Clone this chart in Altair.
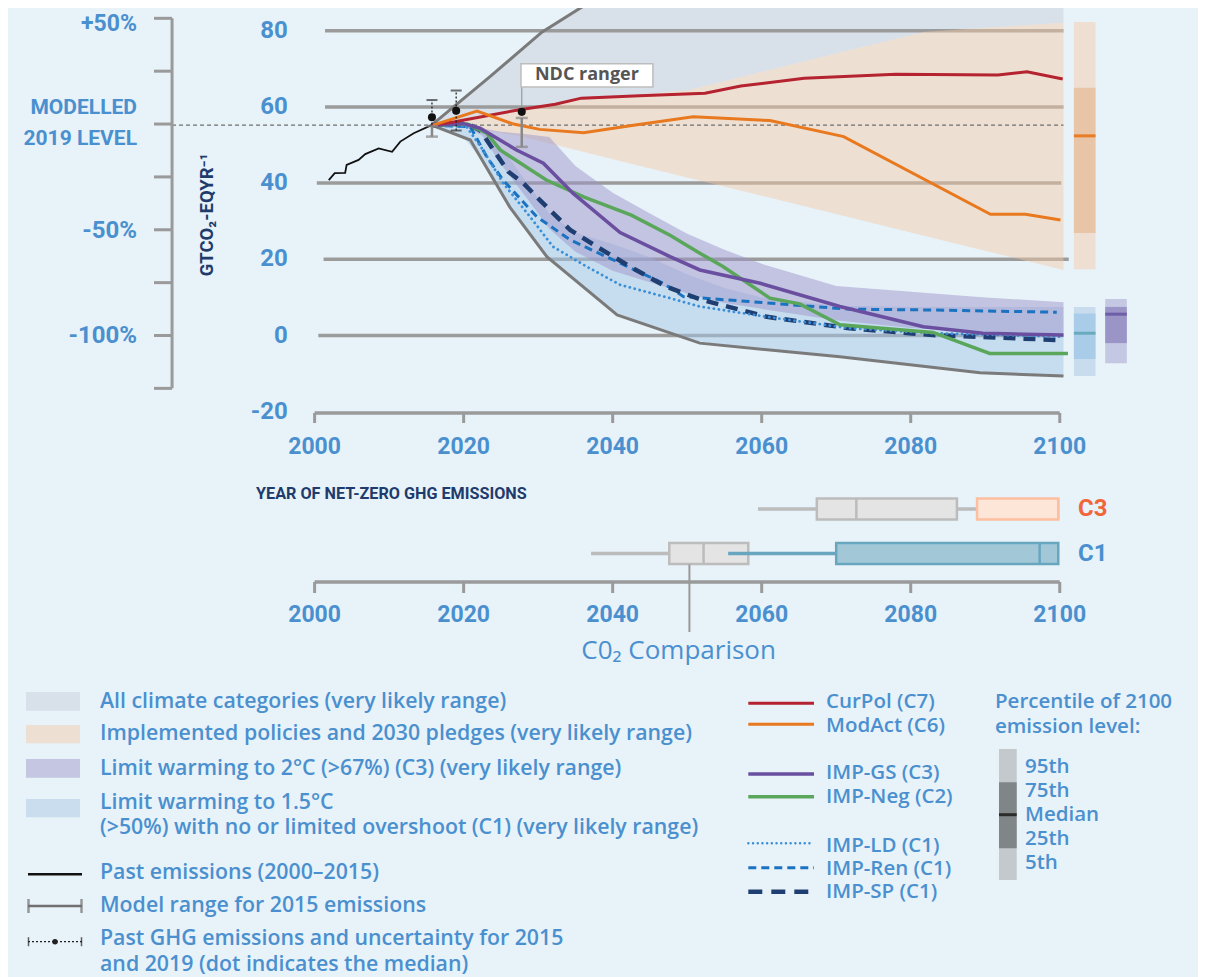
import altair as alt
import pandas as pd

# ---------------- values ----------------
past_years = [2001.9, 2002.7, 2004.1, 2004.3, 2005.9, 2006.8, 2008.6, 2010.4, 2011.5, 2013.3, 2015.7]
past_vals = [40.8, 42.6, 42.7, 44.8, 46.1, 47.6, 49.1, 48.2, 50.9, 53.1, 55.2]

curpol_years = [2015.7, 2018.8, 2027.3, 2032.3, 2035.8, 2043.6, 2052.4, 2057.2, 2065.7, 2078.0, 2091.7, 2095.6, 2100.4]
curpol_vals = [55.2, 56.1, 59.2, 60.7, 62.3, 62.9, 63.6, 65.5, 67.5, 68.6, 68.4, 69.2, 67.3]
modact_years = [2015.9, 2021.8, 2026.7, 2030.2, 2036.1, 2042.8, 2050.8, 2061.1, 2071.0, 2090.7, 2095.4, 2100.1]
modact_vals = [55.2, 58.9, 55.5, 54.1, 53.2, 55.2, 57.4, 56.4, 52.2, 31.8, 31.8, 30.3]
gs_years = [2015.7, 2020.0, 2022.2, 2027.1, 2030.7, 2034.7, 2041.0, 2047.7, 2051.7, 2059.8, 2070.5, 2081.7, 2089.7, 2100.5]
gs_vals = [55.2, 55.6, 54.4, 48.7, 45.2, 37.3, 27.0, 20.7, 17.2, 13.7, 7.6, 2.3, 0.6, 0.1]
neg_years = [2015.7, 2020.5, 2023.1, 2024.9, 2031.1, 2036.1, 2042.5, 2047.7, 2051.7, 2054.8, 2061.1, 2065.1, 2070.5, 2083.0, 2090.6, 2101.1]
neg_vals = [55.2, 55.5, 53.1, 48.7, 40.8, 36.4, 31.6, 26.3, 21.6, 18.1, 9.8, 8.3, 2.8, 0.8, -4.7, -4.7]
ren_years = [2015.7, 2020.9, 2023.1, 2025.3, 2029.8, 2034.3, 2041.0, 2046.8, 2049.5, 2058.4, 2071.8, 2083.0, 2099.6]
ren_vals = [55.2, 54.8, 46.9, 40.8, 31.2, 25.1, 19.0, 13.7, 10.2, 8.9, 6.9, 6.7, 6.1]
sp_years = [2015.7, 2020.4, 2022.2, 2024.0, 2026.0, 2028.0, 2030.2, 2034.3, 2037.9, 2042.3, 2047.2, 2051.7, 2060.7, 2071.8, 2083.0, 2100.0]
sp_vals = [55.2, 55.7, 53.9, 48.7, 43.0, 40.0, 35.6, 27.7, 23.3, 18.1, 12.8, 9.5, 4.9, 1.9, 0.1, -1.2]
ld_years = [2015.7, 2020.4, 2022.6, 2025.3, 2028.9, 2032.0, 2036.5, 2041.0, 2047.7, 2051.7, 2060.7, 2071.8, 2083.0, 2100.0]
ld_vals = [55.2, 54.8, 48.7, 40.0, 31.2, 23.3, 18.1, 13.3, 9.8, 7.6, 4.9, 1.9, 0.6, -0.3]

# bounds of the "all climate categories" range
gray_up_years = [2015.7, 2023.5, 2030.5, 2037.0, 2041.0]
gray_up_vals = [55.2, 67.9, 79.6, 87.6, 92.5]
gray_lo_years = [2015.7, 2020.9, 2026.2, 2031.2, 2040.6, 2051.7, 2070.5, 2089.3, 2100.5]
gray_lo_vals = [55.2, 51.3, 33.7, 20.6, 5.4, -2.0, -5.6, -9.8, -10.6]
allcat_years = [2015.7, 2020.0, 2023.5, 2027.3, 2030.5, 2034.4, 2037.0, 2038.3, 2050.1, 2060.0, 2070.5, 2081.9, 2100.5]
allcat_hi = [55.2, 62.2, 67.9, 74.3, 79.6, 84.4, 87.6, 89.2, 100, 100, 100, 100, 100]
allcat_lo = [55.2, 57.0, 58.1, 59.5, 60.5, 61.7, 62.2, 62.4, 64.4, 69.2, 74.3, 79.7, 82.1]

# implemented policies range
pol_years = [2015.7, 2020.0, 2027.3, 2034.4, 2038.3, 2050.1, 2060.0, 2070.5, 2081.9, 2100.5]
pol_hi = [55.2, 57.0, 59.5, 61.7, 62.4, 64.4, 69.2, 74.3, 79.7, 82.1]
pol_lo = [55.2, 55.0, 52.4, 49.0, 47.1, 41.4, 36.7, 31.6, 26.1, 17.2]

# C1 / C3 ranges
rng_years = [2015.7, 2020, 2022.5, 2025, 2028.5, 2031.5, 2035, 2040, 2045, 2050, 2055, 2060, 2070, 2080, 2090, 2100.5]
c1_hi = [55.2, 55.6, 53.5, 49.5, 40.0, 32.0, 27.0, 24.0, 20.5, 16.0, 12.5, 10.0, 7.8, 7.5, 7.5, 7.5]
c1_lo = [55.2, 52.0, 46.0, 37.7, 27.7, 20.1, 14.5, 6.4, 2.5, -0.9, -2.6, -3.6, -5.5, -7.7, -9.8, -10.6]
c3_hi = [55.2, 55.5, 54.3, 53.5, 52.8, 52.1, 44.5, 37.5, 32.0, 26.7, 22.5, 18.8, 13.0, 11.5, 10.0, 8.7]
c3_lo = [55.2, 55.0, 52.5, 45.0, 36.0, 28.0, 22.0, 17.0, 14.0, 11.0, 8.5, 7.0, 4.0, 2.0, 1.0, 0.6]

# 2100 percentile bars: p5, p25, median, p75, p95
bar_names = ["Policies", "C1", "C3"]
bar_p5 = [17.4, -10.6, -7.3]
bar_p25 = [26.9, -6.2, -2.0]
bar_med = [52.4, 0.6, 5.6]
bar_p75 = [65.0, 5.8, 7.5]
bar_p95 = [82.3, 7.5, 9.6]

# markers
level_2019 = 55.2
pct_base = 55.5
hist_years = [2015.75, 2019.0]
hist_med = [57.3, 59.0]
hist_lo = [52.2, 53.8]
hist_hi = [61.8, 64.3]
model2015_lo, model2015_hi = 52.2, 55.0
ndc_year, ndc_med, ndc_lo, ndc_hi = 2027.8, 58.7, 49.5, 57.1

# year of net-zero (box plots)
nz_cats = ["C3", "C1"]
co2_lo = [2059.5, 2037.1]
co2_q1 = [2067.4, 2047.6]
co2_med = [2072.7, 2052.2]
co2_q3 = [2086.2, 2058.2]
co2_hi = [2088.9, 2058.2]
ghg_lo = [2088.9, 2055.5]
ghg_q1 = [2088.9, 2070.0]
ghg_med = [2099.8, 2097.3]
ghg_q3 = [2099.8, 2099.8]
co2_compare_year = 2050.3

grid_vals = [80, 60, 40, 20, 0]
grid_start = [2001.4, 2001.4, 2000.3, 2001.2, 2000.5]
grid_end = [2100.5, 2100.5, 2100.2, 2101.2, 2100.5]
ytick_vals = [80, 60, 40, 20, 0, -20]
year_ticks = [2000, 2020, 2040, 2060, 2080, 2100]
pct_ticks = [50, 25, 0, -25, -50, -75, -100, -125]
pct_labels = ["+50%", "-50%", "-100%"]

# ---------------- style / layout ----------------
BG = "#e8f2f9"
BLUE = "#4a90cf"
NAVY = "#1e3b6c"
GRID = "#9b9b9b"
AXC = "#9a9a9a"
RED, ORANGE, PURPLE, GREEN = "#b52230", "#e8791f", "#6a4fa0", "#5aa65a"
LDC, RENC, SPC = "#3a8fd8", "#1a72c0", "#1f3f72"
GLINE = "#7a7a7a"
COND = "Roboto, 'Liberation Sans', sans-serif"
SANS = "'Open Sans', 'Noto Sans', sans-serif"
LEG = 20.5
LEG_L = 21.3

W, H = 1190, 969
PXS, PVS = 7.4515, 3.81
YR0 = 2000 - (314.6 - 8) / PXS
YR1 = YR0 + W / PXS
V_TOP = (335.5 - 8) / PVS
V_BOT = V_TOP - H / PVS

SX = alt.Scale(domain=[YR0, YR1], nice=False, zero=False)
SV = alt.Scale(domain=[V_BOT, V_TOP], nice=False, zero=False)
SPX = alt.Scale(domain=[8, 8 + W], nice=False, zero=False)
SPY = alt.Scale(domain=[8, 8 + H], reverse=True, nice=False, zero=False)


def ax(f):
    return alt.X(f, type="quantitative", scale=SX, axis=None)


def av(f):
    return alt.Y(f, type="quantitative", scale=SV, axis=None)


def apx(f):
    return alt.X(f, type="quantitative", scale=SPX, axis=None)


def apy(f):
    return alt.Y(f, type="quantitative", scale=SPY, axis=None)


def ch(d):
    return alt.Chart(pd.DataFrame(d))


L = []

# ---- range areas and gridlines ----
L.append(ch({"x": allcat_years, "hi": allcat_hi, "lo": allcat_lo})
         .mark_area(color="#c8d0d9", opacity=0.5, clip=True)
         .encode(x=ax("x"), y=av("hi"), y2="lo"))
L.append(ch({"v": grid_vals, "a": grid_start, "b": grid_end})
         .mark_rule(color=GRID, strokeWidth=3.5)
         .encode(x=ax("a"), x2="b", y=av("v")))
L.append(ch({"x": pol_years, "hi": pol_hi, "lo": pol_lo})
         .mark_area(color="#f5c9a3", opacity=0.45)
         .encode(x=ax("x"), y=av("hi"), y2="lo"))
L.append(ch({"x": rng_years, "hi": c1_hi, "lo": c1_lo})
         .mark_area(color="#a4c6e5", opacity=0.5)
         .encode(x=ax("x"), y=av("hi"), y2="lo"))
L.append(ch({"x": rng_years, "hi": c3_hi, "lo": c3_lo})
         .mark_area(color="#9e96c9", opacity=0.5)
         .encode(x=ax("x"), y=av("hi"), y2="lo"))

# modelled 2019 level
L.append(ch({"a": [1980.87], "b": [2100.5], "v": [level_2019]})
         .mark_rule(color="#6d6d6d", strokeWidth=1.3, strokeDash=[4, 3])
         .encode(x=ax("a"), x2="b", y=av("v")))

# ---- lines ----
def line(years, vals, color, width, dash=None, cap="butt", clip=False):
    kw = dict(color=color, strokeWidth=width, strokeCap=cap, clip=clip)
    if dash:
        kw["strokeDash"] = dash
    return ch({"x": years, "v": vals}).mark_line(**kw).encode(x=ax("x"), y=av("v"))


L.append(line(gray_up_years, gray_up_vals, GLINE, 3, clip=True))
L.append(line(gray_lo_years, gray_lo_vals, GLINE, 3))
L.append(line(ren_years, ren_vals, RENC, 3, [8, 5]))
L.append(line(sp_years, sp_vals, SPC, 4.5, [12, 8]))
L.append(line(ld_years, ld_vals, LDC, 2.8, [0.1, 5], cap="round"))
L.append(line(neg_years, neg_vals, GREEN, 3.5))
L.append(line(gs_years, gs_vals, PURPLE, 3.5))
L.append(line(curpol_years, curpol_vals, RED, 3))
L.append(line(modact_years, modact_vals, ORANGE, 3))
L.append(line(past_years, past_vals, "#111111", 1.8))

# ---- 2015 / 2019 / NDC markers ----
L.append(ch({"x": hist_years, "lo": hist_lo, "hi": hist_hi})
         .mark_rule(color="#222222", strokeWidth=1.3, strokeDash=[2, 2])
         .encode(x=ax("x"), y=av("lo"), y2="hi"))
L.append(ch({"x": [hist_years[0]], "lo": [model2015_lo], "hi": [model2015_hi]})
         .mark_rule(color="#888888", strokeWidth=2.5)
         .encode(x=ax("x"), y=av("lo"), y2="hi"))
L.append(ch({"x": [ndc_year], "lo": [ndc_lo], "hi": [ndc_hi]})
         .mark_rule(color="#888888", strokeWidth=2.5)
         .encode(x=ax("x"), y=av("lo"), y2="hi"))
L.append(ch({"x": [ndc_year], "lo": [ndc_med], "hi": [65.2]})
         .mark_rule(color="#999999", strokeWidth=1.2)
         .encode(x=ax("x"), y=av("lo"), y2="hi"))
L.append(ch({"x": [hist_years[0], hist_years[1], hist_years[1]], "v": [hist_hi[0], hist_hi[1], hist_lo[1]]})
         .mark_tick(orient="horizontal", size=11, thickness=2, color="#333333")
         .encode(x=ax("x"), y=av("v")))
L.append(ch({"x": [hist_years[0], hist_years[0], ndc_year, ndc_year], "v": [model2015_lo, model2015_hi, ndc_lo, ndc_hi]})
         .mark_tick(orient="horizontal", size=12, thickness=2.5, color="#888888")
         .encode(x=ax("x"), y=av("v")))
L.append(ch({"x": hist_years + [ndc_year], "v": hist_med + [ndc_med]})
         .mark_circle(size=65, color="#111111", opacity=1)
         .encode(x=ax("x"), y=av("v")))

# NDC label
L.append(ch({"a": [2027.7], "b": [2045.4], "lo": [65.2], "hi": [71.3]})
         .mark_rect(fill="white", stroke="#bdbdbd", strokeWidth=1.5)
         .encode(x=ax("a"), x2="b", y=av("lo"), y2="hi"))
L.append(ch({"x": [2036.55], "v": [68.25], "t": ["NDC ranger"]})
         .mark_text(font=SANS, fontSize=18, fontWeight="bold", color="#555555")
         .encode(x=ax("x"), y=av("v"), text="t:N"))

# ---- 2100 percentile bars ----
bar_x0 = [2101.9, 2101.9, 2106.1]
bar_x1 = [2104.8, 2104.8, 2109.0]
outer_c = ["#eedfd2", "#c8dcee", "#c4c8e2"]
inner_c = ["#e8c5a7", "#a9cce8", "#9b95c7"]
med_c = ["#e87d25", "#6aaabf", "#6e5ea8"]
bars = pd.DataFrame({"n": bar_names, "a": bar_x0, "b": bar_x1, "p5": bar_p5, "p25": bar_p25,
                     "med": bar_med, "p75": bar_p75, "p95": bar_p95})
L.append(alt.Chart(bars).mark_rect()
         .encode(x=ax("a"), x2="b", y=av("p5"), y2="p95",
                 color=alt.Color("n:N", scale=alt.Scale(domain=bar_names, range=outer_c), legend=None)))
L.append(alt.Chart(bars).mark_rect()
         .encode(x=ax("a"), x2="b", y=av("p25"), y2="p75",
                 color=alt.Color("n:N", scale=alt.Scale(domain=bar_names, range=inner_c), legend=None)))
L.append(alt.Chart(bars).mark_rule(strokeWidth=3)
         .encode(x=ax("a"), x2="b", y=av("med"),
                 color=alt.Color("n:N", scale=alt.Scale(domain=bar_names, range=med_c), legend=None)))

# ---- left percentage axis ----
pct_v = [pct_base * (1 + p / 100) for p in pct_ticks]
L.append(ch({"x": [1980.87], "lo": [pct_v[-1]], "hi": [pct_v[0]]})
         .mark_rule(color=AXC, strokeWidth=3)
         .encode(x=ax("x"), y=av("lo"), y2="hi"))
L.append(ch({"a": [1978.45] * len(pct_v), "b": [1980.87] * len(pct_v), "v": pct_v})
         .mark_rule(color=AXC, strokeWidth=3)
         .encode(x=ax("a"), x2="b", y=av("v")))
L.append(ch({"px": [137] * 5, "py": [24, 108, 139, 231, 336],
             "t": [pct_labels[0], "MODELLED", "2019 LEVEL", pct_labels[1], pct_labels[2]],
             "fs": [23, 21, 21, 24, 24]})
         .mark_text(font=COND, fontWeight="bold", color=BLUE, align="right", baseline="middle")
         .encode(x=apx("px"), y=apy("py"), text="t:N", size=alt.Size("fs:Q", scale=None)))

# ---- main y tick labels and title ----
L.append(ch({"x": [1996.4] * len(ytick_vals), "v": ytick_vals, "t": [str(v) for v in ytick_vals]})
         .mark_text(font=COND, fontSize=24, fontWeight="bold", color=BLUE, align="right", baseline="middle")
         .encode(x=ax("x"), y=av("v"), text="t:N"))
L.append(ch({"px": [207], "py": [215], "t": ["GTCO\u2082-EQYR\u207b\u00b9"]})
         .mark_text(font=COND, fontSize=18.5, fontWeight="bold", color=NAVY, angle=270,
                    align="center", baseline="middle")
         .encode(x=apx("px"), y=apy("py"), text="t:N"))

# ---- x axes (main and net-zero) ----
for line_y, tick_y2, lab_y in [(413, 423, 447), (582, 593, 615)]:
    L.append(ch({"a": [2000], "b": [2100], "y": [line_y]})
             .mark_rule(color=AXC, strokeWidth=3.5)
             .encode(x=ax("a"), x2="b", y=apy("y")))
    L.append(ch({"x": year_ticks, "y": [line_y] * 6, "y2": [tick_y2] * 6})
             .mark_rule(color=AXC, strokeWidth=3)
             .encode(x=ax("x"), y=apy("y"), y2="y2"))
    L.append(ch({"x": year_ticks, "y": [lab_y] * 6, "t": [str(t) for t in year_ticks]})
             .mark_text(font=COND, fontSize=23, fontWeight="bold", color=BLUE, baseline="middle")
             .encode(x=ax("x"), y=apy("y"), text="t:N"))

L.append(ch({"px": [256], "py": [493.5], "t": ["YEAR OF NET-ZERO GHG EMISSIONS"]})
         .mark_text(font=COND, fontSize=16.2, fontWeight="bold", color=NAVY, align="left", baseline="middle")
         .encode(x=apx("px"), y=apy("py"), text="t:N"))

# ---- net-zero box plots ----
row_y = [509, 553.5]
half = 10.5
nz = pd.DataFrame({"c": nz_cats, "y": row_y, "y0": [r - half for r in row_y], "y1": [r + half for r in row_y],
                   "co2_lo": co2_lo, "co2_q1": co2_q1, "co2_med": co2_med, "co2_q3": co2_q3, "co2_hi": co2_hi,
                   "ghg_lo": ghg_lo, "ghg_q1": ghg_q1, "ghg_med": ghg_med, "ghg_q3": ghg_q3})
GB_F, GB_S = "#e4e4e4", "#bcbcbc"
L.append(alt.Chart(nz).mark_rule(color=GB_S, strokeWidth=3.5)
         .encode(x=ax("co2_lo"), x2="co2_hi", y=apy("y")))
L.append(alt.Chart(nz).mark_rect(fill=GB_F, stroke=GB_S, strokeWidth=2.5)
         .encode(x=ax("co2_q1"), x2="co2_q3", y=apy("y0"), y2="y1"))
L.append(alt.Chart(nz).mark_rule(color=GB_S, strokeWidth=2.5)
         .encode(x=ax("co2_med"), y=apy("y0"), y2="y1"))
ghg_fill = ["#fde6d8", "#a2c8d8"]
ghg_stroke = ["#fdbf9f", "#68a6c0"]
L.append(alt.Chart(nz).mark_rule(strokeWidth=3.5)
         .encode(x=ax("ghg_lo"), x2="ghg_q1", y=apy("y"),
                 color=alt.Color("c:N", scale=alt.Scale(domain=nz_cats, range=ghg_stroke), legend=None)))
L.append(alt.Chart(nz).mark_rect(strokeWidth=2.5)
         .encode(x=ax("ghg_q1"), x2="ghg_q3", y=apy("y0"), y2="y1",
                 fill=alt.Fill("c:N", scale=alt.Scale(domain=nz_cats, range=ghg_fill), legend=None),
                 stroke=alt.Stroke("c:N", scale=alt.Scale(domain=nz_cats, range=ghg_stroke), legend=None)))
L.append(alt.Chart(nz).mark_rule(strokeWidth=2.5)
         .encode(x=ax("ghg_med"), y=apy("y0"), y2="y1",
                 color=alt.Color("c:N", scale=alt.Scale(domain=nz_cats, range=ghg_stroke), legend=None)))
L.append(ch({"x": [co2_compare_year], "y": [564.5], "y2": [632]})
         .mark_rule(color="#999999", strokeWidth=2)
         .encode(x=ax("x"), y=apy("y"), y2="y2"))
L.append(alt.Chart(nz.assign(px=1078, col=["#f0663a", BLUE]))
         .mark_text(font=COND, fontSize=24, fontWeight="bold", align="left", baseline="middle")
         .encode(x=apx("px"), y=apy("y"), text="c:N",
                 color=alt.Color("col:N", scale=None)))
L.append(ch({"px": [678.6], "py": [651], "t": ["C0\u2082 Comparison"]})
         .mark_text(font=SANS, fontSize=26, color=BLUE, baseline="middle")
         .encode(x=apx("px"), y=apy("py"), text="t:N"))

# ---- legend: left column ----
sw = pd.DataFrame({"a": [26] * 4, "b": [80] * 4, "y0": [692, 725, 759, 799], "y1": [710.7, 743.3, 777.7, 817.3],
                   "col": ["#d8e1e9", "#eedfd3", "#c5c6e2", "#c9ddef"]})
L.append(alt.Chart(sw).mark_rect()
         .encode(x=apx("a"), x2="b", y=apy("y0"), y2="y1", color=alt.Color("col:N", scale=None)))
leg_left_text = ["All climate categories (very likely range)",
                 "Implemented policies and 2030 pledges (very likely range)",
                 "Limit warming to 2\u00b0C (>67%) (C3) (very likely range)",
                 "Limit warming to 1.5\u00b0C",
                 "(>50%) with no or limited overshoot (C1) (very likely range)",
                 "Past emissions (2000\u20132015)",
                 "Model range for 2015 emissions",
                 "Past GHG emissions and uncertainty for 2015",
                 "and 2019 (dot indicates the median)"]
leg_left_y = [701.7, 734, 769.3, 803.3, 827.7, 873.3, 906, 939.3, 965]
L.append(ch({"px": [100] * len(leg_left_text), "py": leg_left_y, "t": leg_left_text})
         .mark_text(font=SANS, fontSize=LEG_L, fontWeight=600, color=BLUE, align="left", baseline="middle")
         .encode(x=apx("px"), y=apy("py"), text="t:N"))
L.append(ch({"a": [28], "b": [82], "y": [874.3]}).mark_rule(color="#111111", strokeWidth=2.5)
         .encode(x=apx("a"), x2="b", y=apy("y")))
L.append(ch({"a": [28], "b": [82], "y": [906]}).mark_rule(color="#707070", strokeWidth=2.5)
         .encode(x=apx("a"), x2="b", y=apy("y")))
L.append(ch({"x": [28.5, 81.5], "y": [906, 906]})
         .mark_tick(orient="vertical", size=14, thickness=2.5, color="#707070")
         .encode(x=apx("x"), y=apy("y")))
L.append(ch({"a": [28], "b": [82], "y": [941.7]}).mark_rule(color="#222222", strokeWidth=1.3, strokeDash=[2, 2])
         .encode(x=apx("a"), x2="b", y=apy("y")))
L.append(ch({"x": [28.5, 81.5], "y": [941.7, 941.7]})
         .mark_tick(orient="vertical", size=9, thickness=1.5, color="#222222")
         .encode(x=apx("x"), y=apy("y")))
L.append(ch({"x": [55], "y": [941.7]}).mark_circle(size=30, color="#222222", opacity=1)
         .encode(x=apx("x"), y=apy("y")))

# ---- legend: scenario lines ----
leg_lines = [("CurPol (C7)", RED, 3, None, "butt", 703.3, 701.7),
             ("ModAct (C6)", ORANGE, 3, None, "butt", 724.3, 725.7),
             ("IMP-GS (C3)", PURPLE, 3.5, None, "butt", 774, 773.3),
             ("IMP-Neg (C2)", GREEN, 3.5, None, "butt", 796.7, 796.7),
             ("IMP-LD (C1)", LDC, 2.4, [0.1, 4.6], "round", 843.3, 845.7),
             ("IMP-Ren (C1)", RENC, 3, [8, 5], "butt", 867.7, 869),
             ("IMP-SP (C1)", SPC, 4.5, [14, 9], "butt", 891.7, 892)]
for name, col, wdt, dash, cap, ly, ty in leg_lines:
    kw = dict(color=col, strokeWidth=wdt, strokeCap=cap)
    if dash:
        kw["strokeDash"] = dash
    L.append(ch({"a": [748.3], "b": [814], "y": [ly]}).mark_rule(**kw)
             .encode(x=apx("a"), x2="b", y=apy("y")))
L.append(ch({"px": [826] * len(leg_lines), "py": [r[6] for r in leg_lines], "t": [r[0] for r in leg_lines]})
         .mark_text(font=SANS, fontSize=LEG, fontWeight=600, color=BLUE, align="left", baseline="middle")
         .encode(x=apx("px"), y=apy("py"), text="t:N"))

# ---- legend: percentile key ----
L.append(ch({"px": [995, 995], "py": [701.7, 726.7], "t": ["Percentile of 2100", "emission level:"]})
         .mark_text(font=SANS, fontSize=LEG, fontWeight=600, color=BLUE, align="left", baseline="middle")
         .encode(x=apx("px"), y=apy("py"), text="t:N"))
L.append(ch({"a": [999], "b": [1016.7], "y0": [749], "y1": [880]}).mark_rect(color="#c3c9cd")
         .encode(x=apx("a"), x2="b", y=apy("y0"), y2="y1"))
L.append(ch({"a": [999], "b": [1016.7], "y0": [782.3], "y1": [848.3]}).mark_rect(color="#808587")
         .encode(x=apx("a"), x2="b", y=apy("y0"), y2="y1"))
L.append(ch({"a": [999], "b": [1016.7], "y": [814.7]}).mark_rule(color="#2b2b2b", strokeWidth=3)
         .encode(x=apx("a"), x2="b", y=apy("y")))
L.append(ch({"px": [1025] * 5, "py": [767.3, 790.7, 815, 839.3, 862.7],
             "t": ["95th", "75th", "Median", "25th", "5th"]})
         .mark_text(font=SANS, fontSize=LEG, fontWeight=600, color=BLUE, align="left", baseline="middle")
         .encode(x=apx("px"), y=apy("py"), text="t:N"))

chart = (alt.layer(*L)
         .resolve_scale(x="independent", y="independent", color="independent", fill="independent",
                        stroke="independent", size="independent")
         .properties(width=W, height=H, padding=0, background=BG,
                     autosize=alt.AutoSizeParams(type="none"))
         .configure_view(stroke="transparent"))

chart.save("out.html", embed_options={"renderer": "svg", "actions": False})
